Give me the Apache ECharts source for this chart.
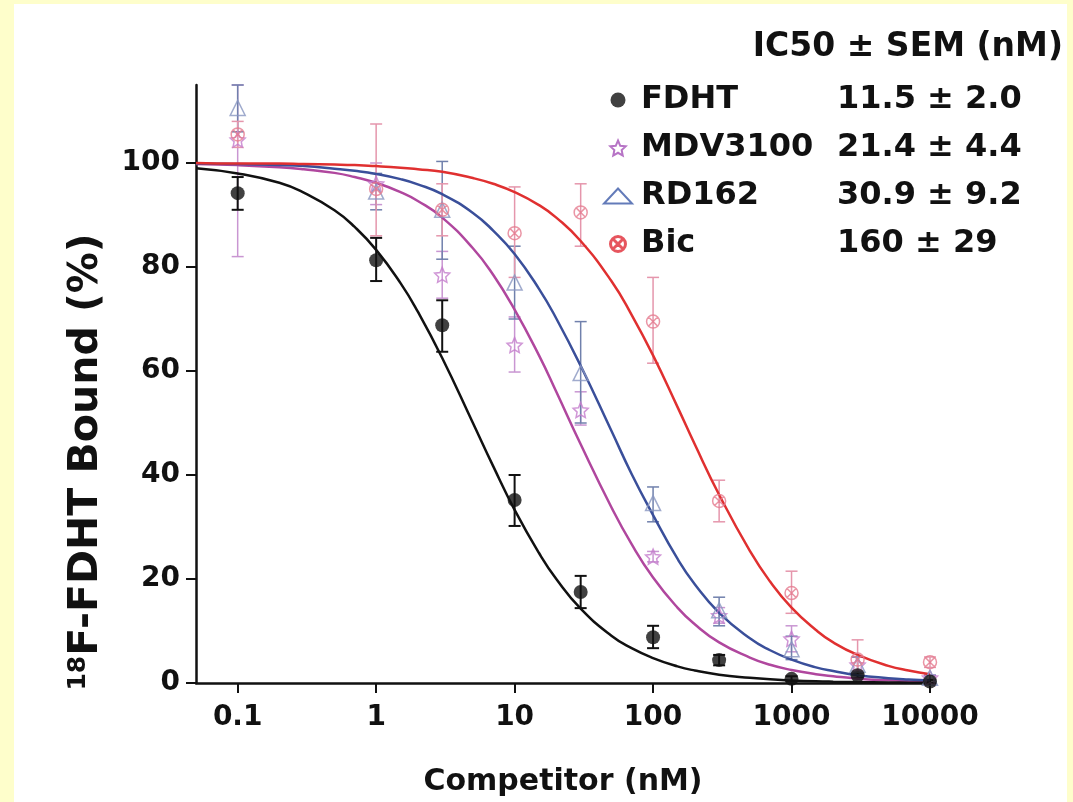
<!DOCTYPE html>
<html>
<head>
<meta charset="utf-8">
<script src="https://cdn.jsdelivr.net/npm/echarts@6/dist/echarts.min.js"></script>
<style>
html,body{margin:0;padding:0;background:#fefecb;}
#main{width:1073px;height:802px;}
</style>
</head>
<body>
<div id="main"></div>
<script>
// competitor concentrations (nM)
var doses = [0.1, 1, 3, 10, 30, 100, 300, 1000, 3000, 10000];
var xTickLabels = [0.1, 1, 10, 100, 1000, 10000];
var yTicks = [0, 20, 40, 60, 80, 100];

var names = ['FDHT', 'MDV3100', 'RD162', 'Bic'];
var ic50Labels = ['11.5 ± 2.0', '21.4 ± 4.4', '30.9 ± 9.2', '160 ± 29'];

// measured points, % bound, with error bar ends
var fdhtMean = [94.2, 81.3, 68.8, 35.2, 17.5, 8.8, 4.4, 0.8, 1.5, 0.3];
var fdhtLow  = [91.0, 77.3, 63.7, 30.2, 14.4, 6.7, 3.4, 0.3, 1.0, 0.0];
var fdhtHigh = [97.3, 85.6, 73.6, 40.0, 20.6, 11.0, 5.4, 1.3, 2.0, 0.6];

var mdvMean = [104.5, 96.0, 78.5, 65.0, 52.5, 24.3, 13.0, 8.5, 3.5, 1.0];
var mdvLow  = [82.0, 92.0, 74.0, 59.8, 49.6, 23.3, 11.5, 6.0, 2.0, 0.5];
var mdvHigh = [115.0, 100.0, 83.0, 70.4, 56.0, 25.3, 14.5, 11.0, 5.0, 1.5];

var rdMean = [110.6, 94.5, 91.0, 77.0, 59.6, 34.6, 14.0, 6.5, 3.5, 1.0];
var rdLow  = [106.0, 91.0, 81.5, 70.0, 50.0, 31.0, 11.0, 4.5, 2.0, 0.5];
var rdHigh = [115.0, 98.0, 100.3, 84.0, 69.5, 37.7, 16.5, 9.0, 5.0, 1.5];

var bicMean = [105.5, 95.0, 91.0, 86.5, 90.5, 69.5, 35.0, 17.3, 4.5, 4.0];
var bicLow  = [103.0, 86.0, 86.0, 78.0, 84.0, 61.5, 31.0, 13.4, 1.5, 3.0];
var bicHigh = [108.0, 107.5, 96.0, 95.4, 96.0, 78.0, 39.0, 21.5, 8.3, 5.0];

// fitted curves
var fitDoses = [0.05, 0.1, 0.2, 0.3, 0.5, 0.7, 1, 1.5, 2, 3, 5, 7, 10, 15, 20, 30, 50, 70, 100, 150, 200, 300, 500, 700, 1000, 1500, 2000, 3000, 5000, 7000, 10000];
var fdhtFit = [99.0, 98.0, 96.2, 94.3, 90.9, 87.7, 83.3, 76.9, 71.4, 62.5, 50.0, 41.7, 33.3, 25.0, 20.0, 14.3, 9.1, 6.7, 4.8, 3.2, 2.4, 1.6, 1.0, 0.7, 0.5, 0.33, 0.25, 0.17, 0.1, 0.07, 0.05];
var mdvFit  = [99.8, 99.6, 99.2, 98.8, 98.1, 97.3, 96.2, 94.4, 92.7, 89.5, 83.6, 78.5, 71.8, 63.0, 56.0, 45.9, 33.8, 26.7, 20.3, 14.5, 11.3, 7.8, 4.9, 3.5, 2.5, 1.7, 1.3, 0.84, 0.51, 0.36, 0.25];
var rdFit   = [99.9, 99.8, 99.6, 99.4, 98.9, 98.5, 97.9, 96.9, 95.9, 94.0, 90.4, 87.0, 82.5, 75.8, 70.1, 61.0, 48.5, 40.2, 32.3, 23.9, 19.0, 13.5, 8.6, 6.3, 4.5, 3.0, 2.3, 1.5, 0.93, 0.67, 0.47];
var bicFit  = [100.0, 99.9, 99.9, 99.8, 99.7, 99.6, 99.4, 99.1, 98.8, 98.3, 97.1, 96.0, 94.4, 91.9, 89.5, 85.0, 77.3, 70.8, 63.0, 53.1, 45.9, 36.2, 25.4, 19.5, 14.5, 10.2, 7.8, 5.4, 3.3, 2.4, 1.7];

var STAR = 'path://M10,0 L12.94,6.91 L20,7.64 L14.76,12.5 L16.18,19.51 L10,15.95 L3.82,19.51 L5.24,12.5 L0,7.64 L7.06,6.91 Z';
var CIRCLE_X = 'path://M10,0 A10,10 0 1,1 9.99,0 Z M3,3 L17,17 M17,3 L3,17';
var FONT = 'DejaVu Sans';

function pairs(xs, ys) {
    return xs.map(function (x, i) { return [x, ys[i]]; });
}

function errorBars(name, low, high, color, width) {
    return {
        type: 'custom',
        name: name + ' sem',
        z: 2,
        encode: { x: 0, y: [1, 2] },
        data: doses.map(function (d, i) { return [d, low[i], high[i]]; }),
        renderItem: function (params, api) {
            var lo = api.coord([api.value(0), api.value(1)]);
            var hi = api.coord([api.value(0), api.value(2)]);
            var w = 6;
            var st = { stroke: color, lineWidth: width };
            return {
                type: 'group',
                children: [
                    { type: 'line', shape: { x1: lo[0], y1: lo[1], x2: hi[0], y2: hi[1] }, style: st },
                    { type: 'line', shape: { x1: lo[0] - w, y1: lo[1], x2: lo[0] + w, y2: lo[1] }, style: st },
                    { type: 'line', shape: { x1: hi[0] - w, y1: hi[1], x2: hi[0] + w, y2: hi[1] }, style: st }
                ]
            };
        }
    };
}

function curve(name, ys, color) {
    return {
        type: 'line',
        name: name + ' fit',
        data: pairs(fitDoses, ys),
        smooth: true,
        showSymbol: false,
        z: 3,
        lineStyle: { color: color, width: 2.5 }
    };
}

var chart = echarts.init(document.getElementById('main'));
chart.setOption({
    backgroundColor: '#fefecb',
    animation: false,
    grid: { left: 196, right: 143, top: 85, bottom: 119, outerBoundsMode: 'none' },
    graphic: [
        { type: 'rect', z: -10, shape: { x: 14, y: 4, width: 1053, height: 798 }, style: { fill: '#ffffff' } },
        {
            type: 'text', right: 10, top: 31,
            style: { text: 'IC50 ± SEM (nM)', fill: '#111', font: 'bold 33px "DejaVu Sans"' }
        },
        {
            type: 'text', x: 86, y: 462, rotation: Math.PI / 2,
            style: {
                text: '{s|18}{m|F-FDHT Bound (%)}',
                align: 'center', verticalAlign: 'middle',
                rich: {
                    s: { fontSize: 25, fontWeight: 'bold', fontFamily: FONT, fill: '#111', verticalAlign: 'top' },
                    m: { fontSize: 41, fontWeight: 'bold', fontFamily: FONT, fill: '#111' }
                }
            }
        }
    ],
    legend: {
        orient: 'vertical',
        left: 598, top: 79,
        itemWidth: 28, itemHeight: 15, itemGap: 16,
        selectedMode: false,
        data: [
            { name: 'FDHT', icon: 'circle', itemStyle: { color: '#111' } },
            { name: 'MDV3100', icon: STAR, itemStyle: { color: 'transparent', borderColor: '#a450b6', borderWidth: 2 } },
            { name: 'RD162', icon: 'triangle', itemStyle: { color: 'transparent', borderColor: '#3c5aa8', borderWidth: 2 } },
            { name: 'Bic', icon: CIRCLE_X, itemStyle: { color: 'transparent', borderColor: '#e02a36', borderWidth: 3 } }
        ],
        formatter: function (n) {
            return '{n|' + n + '}{v|' + ic50Labels[names.indexOf(n)] + '}';
        },
        textStyle: {
            color: '#111', fontSize: 32, fontWeight: 'bold', fontFamily: FONT, lineHeight: 32,
            rich: {
                n: { width: 196, padding: [0, 0, 0, 4], fontSize: 32, fontWeight: 'bold', fontFamily: FONT, lineHeight: 32 },
                v: { fontSize: 32, fontWeight: 'bold', fontFamily: FONT, lineHeight: 32 }
            }
        }
    },
    xAxis: {
        type: 'log',
        logBase: 10,
        min: 0.05,
        max: 10000,
        name: 'Competitor (nM)',
        nameLocation: 'middle',
        nameGap: 84,
        nameTextStyle: { color: '#111', fontSize: 30, fontWeight: 'bold', fontFamily: FONT },
        axisLine: { lineStyle: { color: '#111', width: 2.5 } },
        axisTick: { length: 10, lineStyle: { color: '#111', width: 2 } },
        axisLabel: {
            showMinLabel: false,
            margin: 21,
            color: '#111', fontSize: 28, fontWeight: 'bold', fontFamily: FONT,
            formatter: function (v) {
                var r = +(+v).toPrecision(6);
                return xTickLabels.indexOf(r) >= 0 ? String(r) : '';
            }
        },
        splitLine: { show: false }
    },
    yAxis: {
        type: 'value',
        min: 0,
        max: 115,
        axisLine: { show: true, lineStyle: { color: '#111', width: 2.5 } },
        axisTick: { show: true, length: 10, customValues: yTicks, lineStyle: { color: '#111', width: 2 } },
        axisLabel: {
            customValues: yTicks,
            margin: 16,
            color: '#111', fontSize: 28, fontWeight: 'bold', fontFamily: FONT
        },
        splitLine: { show: false }
    },
    series: [
        curve('MDV3100', mdvFit, '#b0479e'),
        curve('RD162', rdFit, '#3a4f9a'),
        curve('Bic', bicFit, '#e03030'),
        curve('FDHT', fdhtFit, '#111111'),
        errorBars('MDV3100', mdvLow, mdvHigh, '#c996d2', 1.5),
        errorBars('RD162', rdLow, rdHigh, '#7080ac', 1.5),
        errorBars('Bic', bicLow, bicHigh, '#e596ac', 1.5),
        errorBars('FDHT', fdhtLow, fdhtHigh, '#111111', 2),
        {
            type: 'scatter', name: 'MDV3100', z: 4,
            symbol: STAR, symbolSize: 15,
            itemStyle: { color: 'rgba(255,255,255,0)', borderColor: '#c47ccc', borderWidth: 1.5 },
            data: pairs(doses, mdvMean)
        },
        {
            type: 'scatter', name: 'RD162', z: 4,
            symbol: 'triangle', symbolSize: 15,
            itemStyle: { color: 'rgba(255,255,255,0)', borderColor: '#8896c0', borderWidth: 1.5 },
            data: pairs(doses, rdMean)
        },
        {
            type: 'scatter', name: 'Bic', z: 4,
            symbol: CIRCLE_X, symbolSize: 13,
            itemStyle: { color: 'rgba(255,255,255,0)', borderColor: '#e57a8e', borderWidth: 1.5 },
            data: pairs(doses, bicMean)
        },
        {
            type: 'scatter', name: 'FDHT', z: 5,
            symbol: 'circle', symbolSize: 14,
            itemStyle: { color: '#111111' },
            data: pairs(doses, fdhtMean)
        }
    ]
});
</script>
</body>
</html>
